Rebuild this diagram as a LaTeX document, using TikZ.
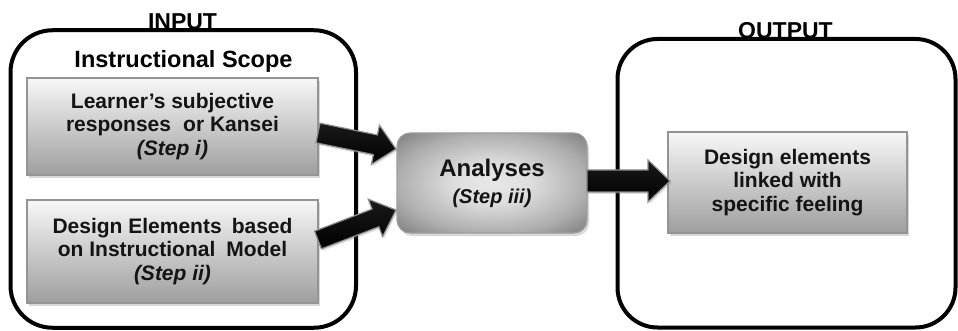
\documentclass[tikz,border=0pt]{standalone}
\usepackage{fontspec}
\setmainfont{Liberation Sans}
\usetikzlibrary{calc,shadows}

% soft glow for the analysis box: light centre, darker corners
\pgfdeclareradialshading{hubglow}{\pgfpoint{0bp}{0bp}}{%
  color(0bp)=(black!9); color(10bp)=(black!13); color(25bp)=(black!32);
  color(36bp)=(black!52); color(50bp)=(black!55)}

% thick block arrow from #1 to #2: shaft half width #3, head half width #4, head length #5 (pt)
\newcommand\fatarrow[5]{%
  \path let \p1=(#1), \p2=(#2),
        \n1={atan2(\y2-\y1,\x2-\x1)}, \n2={veclen(\x2-\x1,\y2-\y1)} in
        \pgfextra{\xdef\arrang{\n1}\xdef\arrlen{\n2}};
  \begin{scope}[shift={(#1)}, rotate=\arrang]
    \path[arrowbody] (0pt,-#3pt) -- ({\arrlen-#5pt},-#3pt) -- ({\arrlen-#5pt},-#4pt)
      -- (\arrlen,0pt) -- ({\arrlen-#5pt},#4pt) -- ({\arrlen-#5pt},#3pt)
      -- (0pt,#3pt) -- cycle;
  \end{scope}
}

\tikzset{
  panel/.style={draw=black, line width=4pt, inner sep=0pt, outer sep=0pt},
  paneltitle/.style={font=\bfseries\fontsize{23}{25}\selectfont, text=black, inner sep=0pt, anchor=base},
  stepbox/.style={draw=black!42, line width=1.1pt, top color=black!3, bottom color=black!38,
    align=center, inner sep=0pt, outer sep=0pt, text=black!92,
    font=\bfseries\fontsize{21}{23.5}\selectfont,
    drop shadow={shadow xshift=2pt, shadow yshift=-3pt, opacity=0.3}},
  hubbox/.style={draw=black!38, line width=1.1pt, rounded corners=13pt,
    shade, shading=hubglow,
    align=center, inner sep=0pt, outer sep=0pt, text=black!92,
    font=\bfseries\fontsize{24}{29}\selectfont,
    drop shadow={shadow xshift=2pt, shadow yshift=-3pt, opacity=0.3}},
  arrowbody/.style={draw=black!45, line width=1.2pt, line join=miter,
    top color=black!90, middle color=black!62, bottom color=black,
    drop shadow={shadow xshift=1.5pt, shadow yshift=-2pt, opacity=0.25}},
}

\begin{document}
\begin{tikzpicture}[x=1pt, y=-1pt]
  \useasboundingbox[fill=white] (0,0) rectangle (958,331);

  % panel titles
  \node[paneltitle] (tin)  at (182.5,30)  {INPUT};
  \node[paneltitle] (tout) at (785.5,38.5) {OUTPUT};

  % the two outer panels
  \node[panel, rounded corners=42pt, minimum width=345.5pt, minimum height=297.5pt]
    (inpanel) at (183.25,179) {};
  \node[panel, rounded corners=40pt, minimum width=338pt, minimum height=288.5pt]
    (outpanel) at (786.5,183.25) {};

  \node[paneltitle, font=\bfseries\fontsize{23.5}{25}\selectfont] (scope) at (183.5,68) {Instructional Scope};

  % step boxes
  \node[stepbox, minimum width=291pt, minimum height=97pt] (b1) at (172.5,126.5)
    {Learner’s subjective\\responses\hspace{0.3em} or Kansei\\\textit{(Step i)}};
  \node[stepbox, minimum width=291pt, minimum height=103pt] (b2) at (172.5,251.5)
    {Design Elements\hspace{0.2em} based\\on Instructional\hspace{0.25em} Model\\\textit{(Step ii)}};
  \node[hubbox, minimum width=190pt, minimum height=100pt] (an) at (492,183)
    {Analyses\\[-2pt]{\fontsize{20}{24}\selectfont\itshape (Step iii)}};
  \node[stepbox, minimum width=239pt, minimum height=101pt] (res) at (787.5,182.5)
    {Design elements\\linked with\\specific feeling};

  % arrow ends
  \coordinate (t1) at ($(b1.east)+(0,6.5)$);
  \coordinate (h1) at ($(an.west)+(-1,-34)$);
  \coordinate (t2) at ($(b2.east)+(0,-11.5)$);
  \coordinate (h2) at ($(an.west)+(-1,27)$);
  \coordinate (t3) at ($(an.east)+(0,-2)$);
  \coordinate (h3) at ($(res.west)+(2,-1.5)$);

  \fatarrow{t1}{h1}{10}{20}{21}
  \fatarrow{t2}{h2}{9.5}{20}{22}
  \fatarrow{t3}{h3}{11}{21}{22}
\end{tikzpicture}
\end{document}
